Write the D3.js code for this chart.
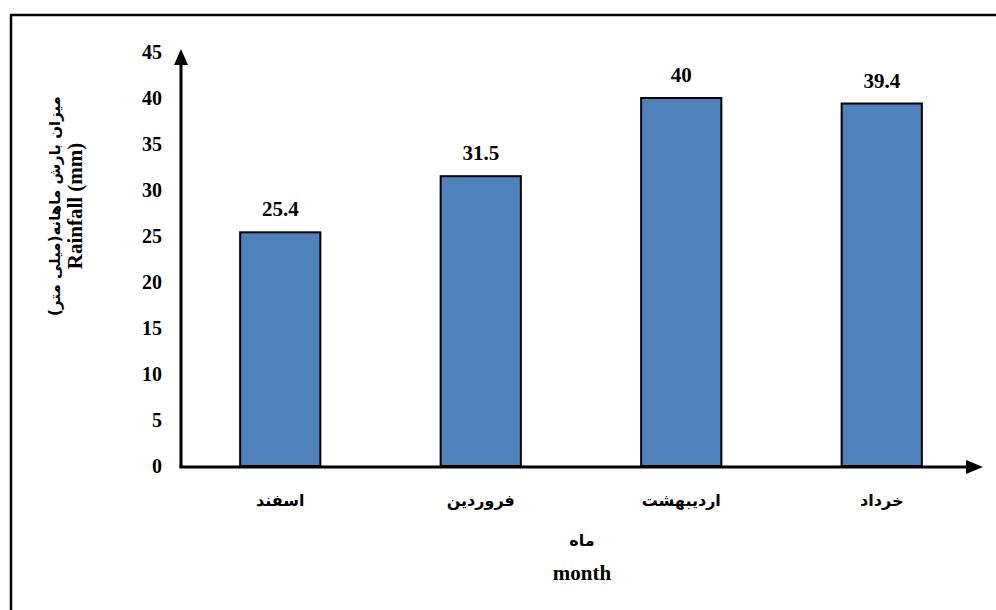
<!DOCTYPE html>
<html><head><meta charset="utf-8">
<script src="https://cdn.jsdelivr.net/npm/d3@7"></script>
<style>body{margin:0;background:#fff}svg{display:block}</style>
</head><body>
<script>
const categories = ["اسفند","فروردین","اردیبهشت","خرداد"];
const values = [25.4, 31.5, 40, 39.4];
const yTicks = [0,5,10,15,20,25,30,35,40,45];

const W = 996, H = 610;
const svg = d3.select("body").append("svg").attr("width", W).attr("height", H);
const serif = "'Liberation Serif','Times New Roman',serif";
const fa = "'DejaVu Sans','Noto Sans',sans-serif";

svg.append("path").attr("d","M11,612 V15 H998").attr("fill","none").attr("stroke","#000").attr("stroke-width",2.5);

const x0 = 181, y0 = 466;
const x = d3.scaleBand().domain(categories).range([180, 982]).paddingInner(0.6).paddingOuter(0.3);
const y = d3.scaleLinear().domain([0,45]).range([y0, 52]);

svg.append("g").selectAll("rect").data(values).join("rect")
  .attr("x",(d,i)=>x(categories[i])).attr("width",x.bandwidth())
  .attr("y",d=>y(d)).attr("height",d=>y(0)-y(d))
  .attr("fill","#4F81BD").attr("stroke","#000").attr("stroke-width",2);

svg.append("g").selectAll("text").data(values).join("text")
  .attr("x",(d,i)=>x(categories[i])+x.bandwidth()/2).attr("y",d=>y(d)-16)
  .attr("text-anchor","middle").attr("font-family",serif).attr("font-weight","bold").attr("font-size",21)
  .text(d=>d);

// axes
svg.append("line").attr("x1",x0).attr("x2",x0).attr("y1",y0+1.5).attr("y2",64).attr("stroke","#000").attr("stroke-width",3);
svg.append("path").attr("d",`M${x0-7},65 L${x0},49 L${x0+7},65 Z`).attr("fill","#000");
svg.append("line").attr("x1",x0-1.5).attr("x2",968).attr("y1",y0+1).attr("y2",y0+1).attr("stroke","#000").attr("stroke-width",3);
svg.append("path").attr("d",`M966,${y0+1-7} L983,${y0+1} L966,${y0+1+7} Z`).attr("fill","#000");

svg.append("g").selectAll("text").data(yTicks).join("text")
  .attr("x",162).attr("y",d=>y(d)+7).attr("text-anchor","end")
  .attr("font-family",serif).attr("font-weight","bold").attr("font-size",20).text(d=>d);

svg.append("g").selectAll("text").data(categories).join("text")
  .attr("x",d=>x(d)+x.bandwidth()/2).attr("y",506).attr("text-anchor","middle")
  .attr("font-family",fa).attr("font-weight","bold").attr("font-size",16).attr("direction","rtl").text(d=>d);

svg.append("text").attr("x",582).attr("y",546).attr("text-anchor","middle")
  .attr("font-family",fa).attr("font-weight","bold").attr("font-size",16).text("ماه");
svg.append("text").attr("x",582).attr("y",580).attr("text-anchor","middle")
  .attr("font-family",serif).attr("font-weight","bold").attr("font-size",21).text("month");

svg.append("text").attr("transform","translate(60,206) rotate(-90)").attr("text-anchor","middle")
  .attr("font-family",fa).attr("font-weight","bold").attr("font-size",15).attr("direction","rtl").text("میزان بارش ماهانه(میلی متر)");
svg.append("text").attr("transform","translate(82,206) rotate(-90)").attr("text-anchor","middle")
  .attr("font-family",serif).attr("font-weight","bold").attr("font-size",21).text("Rainfall (mm)");
</script>
</body></html>
